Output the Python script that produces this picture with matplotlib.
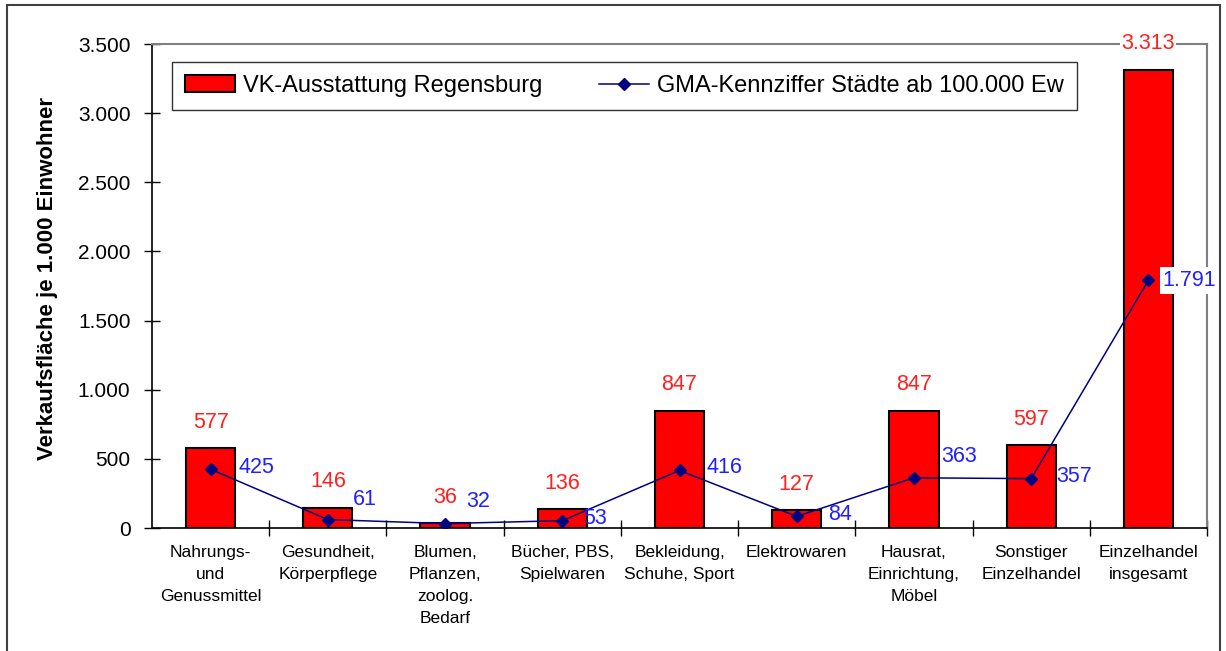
import matplotlib
matplotlib.use('Agg')
import matplotlib.pyplot as plt
from matplotlib.patches import Rectangle
from matplotlib.ticker import FuncFormatter, MultipleLocator

plt.rcParams['font.family'] = ['Liberation Sans', 'DejaVu Sans']

# Daten
kategorien = ['Nahrungs-\nund\nGenussmittel', 'Gesundheit,\nKörperpflege',
              'Blumen,\nPflanzen,\nzoolog.\nBedarf', 'Bücher, PBS,\nSpielwaren',
              'Bekleidung,\nSchuhe, Sport', 'Elektrowaren',
              'Hausrat,\nEinrichtung,\nMöbel', 'Sonstiger\nEinzelhandel',
              'Einzelhandel\ninsgesamt']
vk_regensburg = [577, 146, 36, 136, 847, 127, 847, 597, 3313]
gma_kennziffer = [425, 61, 32, 53, 416, 84, 363, 357, 1791]

# Versatz der blauen Beschriftungen (Pixel)
blau_offset = [(28, 2), (25, 20), (21, 22), (21, 2), (27, 3),
               (31, 2), (27, 21), (25, 2), (14, 0)]


def tausender(v, pos=None):
    return f'{int(v):,}'.replace(',', '.')


fig = plt.figure(figsize=(12.26, 6.51), dpi=100)
ax = fig.add_axes([152 / 1226, 1 - 528 / 651, 1055 / 1226, 484 / 651])

x = range(len(kategorien))
balken = ax.bar(x, vk_regensburg, width=0.42, color='#ff0000', edgecolor='black',
                linewidth=1.5, label='VK-Ausstattung Regensburg', zorder=2)
linie, = ax.plot(x, gma_kennziffer, color='#000080', lw=1.1, marker='D', ms=6.5,
                 label='GMA-Kennziffer Städte ab 100.000 Ew', zorder=3)

# Beschriftungen
for i, v in enumerate(vk_regensburg):
    bbox = dict(fc='white', ec='none', pad=1) if i == len(vk_regensburg) - 1 else None
    ax.annotate(tausender(v), (i, v), xytext=(0, 26), textcoords='offset pixels',
                ha='center', va='center', color='#ff2020', fontsize=15.5,
                bbox=bbox, annotation_clip=False, zorder=5)
for i, v in enumerate(gma_kennziffer):
    dx, dy = blau_offset[i]
    bbox = dict(fc='white', ec='none', pad=2) if i == len(gma_kennziffer) - 1 else None
    ax.annotate(tausender(v), (i, v), xytext=(dx, dy), textcoords='offset pixels',
                ha='left', va='center', color='#2020ff', fontsize=15.5,
                bbox=bbox, zorder=5)

ax.set_xlim(-0.5, len(kategorien) - 0.5)
ax.set_ylim(0, 3500)
ax.yaxis.set_major_locator(MultipleLocator(500))
ax.yaxis.set_major_formatter(FuncFormatter(tausender))
ax.tick_params(axis='y', direction='inout', length=11, width=1, pad=10,
               labelsize=15)

ax.set_xticks(list(x))
ax.set_xticklabels(kategorien, fontsize=12.5, linespacing=1.6)
ax.set_xticks([i + 0.5 for i in range(len(kategorien))], minor=True)
ax.tick_params(axis='x', which='major', length=0, pad=12)
ax.tick_params(axis='x', which='minor', direction='inout', length=11, width=1)

for s in ['top', 'right']:
    ax.spines[s].set_color('#808080')
    ax.spines[s].set_linewidth(1.5)
for s in ['left', 'bottom']:
    ax.spines[s].set_linewidth(1.2)

leg = ax.legend([balken, linie], [balken.get_label(), linie.get_label()],
                loc='upper left', bbox_to_anchor=(0.019, 0.963), ncol=2,
                fontsize=17, frameon=True, fancybox=False, borderaxespad=0,
                handlelength=2.1, handletextpad=0.35, columnspacing=2.4,
                borderpad=0.55)
leg.get_frame().set_edgecolor('black')
leg.get_frame().set_linewidth(1)

fig.text(48 / 1226, 1 - 279 / 651, 'Verkaufsfläche je 1.000 Einwohner',
         rotation=90, ha='center', va='center', fontsize=16, fontweight='bold')

# Rahmen um die Grafik
fig.patches.append(Rectangle((7 / 1226, -0.01), 1213 / 1226, 1 - 5 / 651 + 0.01,
                             transform=fig.transFigure, fill=False,
                             ec='#404040', lw=1.5))

fig.savefig('out.png', dpi=100)
